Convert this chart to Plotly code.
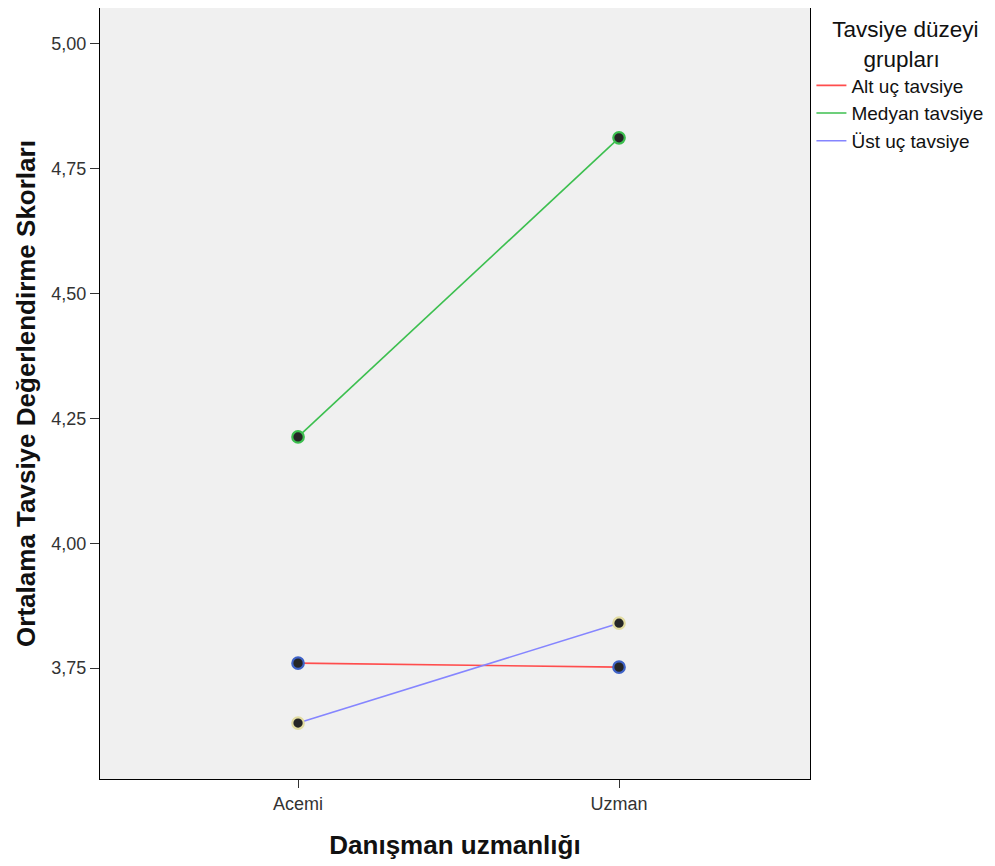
import plotly.graph_objects as go

categories = ["Acemi", "Uzman"]
series_names = ["Alt uç tavsiye", "Medyan tavsiye", "Üst uç tavsiye"]
alt_uc = [3.760, 3.752]
medyan = [4.213, 4.812]
ust_uc = [3.640, 3.840]
y_ticks = [3.75, 4.00, 4.25, 4.50, 4.75, 5.00]
y_tick_labels = ["3,75", "4,00", "4,25", "4,50", "4,75", "5,00"]

values = [alt_uc, medyan, ust_uc]
line_colors = ["#ff4d4d", "#3cbf4f", "#8585ff"]
marker_edges = ["#3f63c8", "#3cbf4f", "#e2dca0"]

xpos = list(range(len(categories)))
fig = go.Figure()
for name, vals, lc in zip(series_names, values, line_colors):
    fig.add_trace(go.Scatter(x=xpos, y=vals, mode="lines", name=name,
                             line=dict(color=lc, width=1.6)))
for name, vals, ec in zip(series_names, values, marker_edges):
    fig.add_trace(go.Scatter(x=xpos, y=vals, mode="markers", showlegend=False,
                             marker=dict(size=11.5, color="#262626",
                                         line=dict(color=ec, width=2.2))))

nb = "\u00a0"
fig.update_layout(
    width=995, height=866,
    margin=dict(l=92, r=193, t=0, b=95),
    paper_bgcolor="white", plot_bgcolor="#f0f0f0",
    font=dict(family="Liberation Sans, Arial, sans-serif", color="#222"),
    showlegend=True,
    legend=dict(
        x=1.002, y=1.0, xanchor="left", yanchor="top",
        title=dict(text=nb * 3 + "Tavsiye düzeyi<br>" + nb * 8 + "grupları",
                   font=dict(size=22.5, color="#111")),
        font=dict(size=19, color="#111"),
        itemwidth=30, tracegroupgap=0, bgcolor="rgba(0,0,0,0)",
    ),
    xaxis=dict(
        range=[-0.617, 1.595], tickvals=xpos, ticktext=categories,
        showgrid=False, zeroline=False, showline=True, linecolor="black",
        linewidth=1, mirror=True, ticks="outside", ticklen=8, tickcolor="#333",
        tickfont=dict(size=18, color="#333"),
        title=dict(text="<b>Danışman uzmanlığı</b>", font=dict(size=26, color="#111"), standoff=23),
    ),
    yaxis=dict(
        range=[3.528, 5.072], tickvals=y_ticks, ticktext=y_tick_labels,
        showgrid=False, zeroline=False, showline=True, linecolor="black",
        linewidth=1, mirror=True, ticks="outside", ticklen=9, tickcolor="#333",
        tickfont=dict(size=18, color="#333"),
        title=dict(text="<b>Ortalama Tavsiye Değerlendirme Skorları</b>",
                   font=dict(size=26, color="#111"), standoff=8),
    ),
)

fig.write_html("out.html")
